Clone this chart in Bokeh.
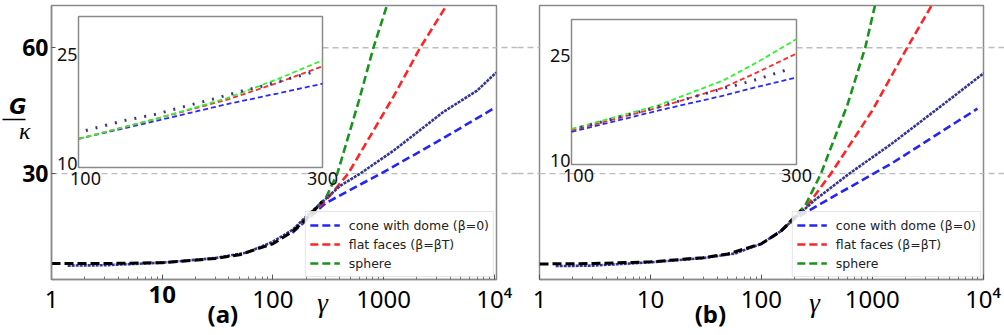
import json
import numpy as np
from bokeh.plotting import figure
from bokeh.layouts import row
from bokeh.models import (Range1d, LinearScale, FixedTicker, Span, Arrow, LinearAxis,
                          CustomJSTickFormatter, Legend, LegendItem)
from bokeh.core.properties import value
from bokeh.embed import file_html
from bokeh.resources import INLINE

# ---------------- ticks / labels ----------------
gamma_ticks = [1, 10, 100, 1000, 10000]
gamma_tick_labels = ["1", "10", "100", "1000", "10\u2074"]
G_ticks = [30, 60]
ref_lines = [30, 60]
inset_gamma_ticks = [100, 300]
inset_G_ticks = [10, 25]
inset_G_lim = [10, 30]
legend_labels = ["cone with dome (\u03b2=0)", "flat faces (\u03b2=\u03b2T)", "sphere"]

# ---------------- panel (a) main ----------------
a_black_gamma = [1, 3, 10, 30, 50, 100, 150, 200, 280]
a_black_G = [8.6, 8.6, 8.8, 9.8, 10.7, 13.3, 16.2, 19.2, 23.4]
a_sim_gamma = [1.4, 3, 10, 30, 58, 100, 150, 200, 300, 405, 612, 1230, 2000, 3460, 7000, 10400]
a_sim_G = [8.1, 8.2, 8.8, 9.9, 11.2, 13.8, 16.6, 19.8, 24.0, 27.1, 30.0, 35.5, 39.8, 44.7, 49.8, 54.1]
a_blue_gamma = [150, 300, 1000, 3000, 9800]
a_blue_G = [15.9, 23.0, 30.4, 37.5, 45.5]
a_red_gamma = [150, 300, 478, 1230, 2140, 4000]
a_red_G = [16.2, 23.6, 30.0, 48.4, 60.0, 71.5]
a_green_gamma = [150, 300, 382, 600, 809, 1100]
a_green_G = [16.2, 24.2, 30.0, 47.5, 60.0, 71.0]

# ---------------- panel (a) inset ----------------
ia_theory_gamma = [100, 167, 222, 263, 300]
ia_green_G = [13.8, 16.6, 19.2, 21.7, 24.2]
ia_red_G = [13.8, 16.6, 19.0, 21.2, 23.4]
ia_blue_G = [13.8, 16.3, 18.4, 19.8, 21.1]
ia_sim_gamma = [106, 137, 162, 185, 209, 233, 249, 271, 296]
ia_sim_G = [14.9, 16.2, 17.0, 18.0, 19.0, 20.1, 20.7, 21.7, 22.8]

# ---------------- panel (b) main ----------------
b_black_gamma = [1, 3, 10, 30, 50, 100, 150, 200, 230]
b_black_G = [8.5, 8.6, 9.0, 10.0, 10.9, 13.3, 16.3, 19.6, 21.3]
b_sim_gamma = [1.4, 3, 10, 30, 58, 100, 150, 200, 300, 620, 1510, 4270, 10200]
b_sim_G = [8.0, 8.1, 8.9, 9.9, 11.0, 13.3, 16.3, 19.4, 23.6, 30.0, 37.2, 46.3, 54.0]
b_blue_gamma = [150, 207, 500, 1510, 8900]
b_blue_G = [16.3, 19.5, 25.3, 32.5, 45.5]
b_red_gamma = [150, 250, 424, 1000, 2066, 3600]
b_red_G = [16.3, 21.8, 30.0, 45.0, 60.0, 71.0]
b_green_gamma = [150, 250, 345, 600, 865, 1080]
b_green_G = [16.3, 22.5, 30.0, 46.5, 60.0, 71.0]

# ---------------- panel (b) inset ----------------
ib_theory_gamma = [100, 176, 235, 265, 300]
ib_green_G = [14.9, 18.1, 21.6, 24.1, 27.3]
ib_red_G = [14.7, 17.8, 20.6, 22.7, 25.3]
ib_blue_G = [14.5, 17.4, 19.5, 20.7, 22.0]
ib_sim_gamma = [108, 137, 176, 206, 233, 262, 292]
ib_sim_G = [15.1, 16.3, 17.9, 19.2, 20.4, 21.6, 23.1]

# ---------------- layout constants ----------------
H = 335
TOP, BOTTOM = 5, 56
FH = H - TOP - BOTTOM
G_RANGE = (4.8, 70.07)
MINOR = [k * 10 ** d for d in range(0, 5) for k in range(2, 10)]

GRAY = "#bdbdbd"
FRAME = "#8a8a8a"
SIM = "#36368f"
SHIFT = "\u2003" * 4 + "\u00a0"   # pushes the centred panel tag to the left


def hline(p, x0, x1, y, level, xname="default"):
    p.add_layout(Arrow(x_start=x0, x_end=x1, y_start=y, y_end=y, start=None, end=None,
                       line_color=GRAY, line_width=1.3, line_dash="6 4",
                       level=level, x_range_name=xname))


def label_axis(p, side, ticks, label="", font="Noto Sans", style="normal", size="24px",
               standoff=0, tick_in=0, tick_out=0, tick_color=None, tick_width=1.0,
               tick_dash="solid"):
    ax = LinearAxis(ticker=FixedTicker(ticks=ticks),
                    formatter=CustomJSTickFormatter(code="return %s;" % json.dumps(label)))
    ax.axis_line_color = None
    ax.minor_tick_line_color = None
    ax.minor_tick_out = 0
    ax.minor_tick_in = 0
    ax.major_tick_line_color = tick_color
    ax.major_tick_line_width = tick_width
    ax.major_tick_line_dash = tick_dash
    ax.major_tick_in = tick_in
    ax.major_tick_out = tick_out
    ax.major_label_standoff = standoff
    ax.major_label_text_font = font
    ax.major_label_text_font_style = style
    ax.major_label_text_font_size = size
    ax.major_label_text_color = "black"
    p.add_layout(ax, side)
    return ax


def build(width, bl, br, xr, inset_box, main, inset, tag, gamma_px, left_panel):
    fw = width - bl - br
    p = figure(width=width, height=H, x_axis_type="log",
               x_range=Range1d(*xr), y_range=Range1d(*G_RANGE),
               min_border_left=bl, min_border_right=br,
               min_border_top=TOP, min_border_bottom=BOTTOM,
               output_backend="svg", toolbar_location=None)
    p.xgrid.visible = False
    p.ygrid.visible = False
    p.outline_line_color = FRAME
    p.outline_line_width = 1.5
    p.background_fill_color = "white"
    p.border_fill_color = "white"

    lx0, lx1 = np.log10(xr)

    def px2x(px):
        return float(10 ** (lx0 + (px - bl) / fw * (lx1 - lx0)))

    def py2y(py):
        return float(G_RANGE[1] - (py - TOP) / FH * (G_RANGE[1] - G_RANGE[0]))

    # main x axis
    xa = p.xaxis[0]
    xa.ticker = FixedTicker(ticks=gamma_ticks, minor_ticks=MINOR)
    labs = list(gamma_tick_labels)
    if left_panel:
        labs[1] = ""
    xa.formatter = CustomJSTickFormatter(
        code="const L = %s; return L[Math.round(Math.log10(tick))];" % json.dumps(labs))
    xa.major_label_text_font = "Noto Sans"
    xa.major_label_text_font_size = "24px"
    xa.major_label_text_color = "black"
    xa.major_label_standoff = 2
    xa.axis_line_color = FRAME
    xa.axis_line_width = 1.5
    xa.major_tick_line_color = "#555555"
    xa.minor_tick_line_color = "#777777"
    xa.major_tick_in = 5
    xa.major_tick_out = 0
    xa.minor_tick_in = 3
    xa.minor_tick_out = 0

    # extra label rows under the frame (stacked axes pulled back with negative standoffs)
    label_axis(p, "below", [gamma_ticks[1]], gamma_tick_labels[1] if left_panel else "",
               style="bold", size="24px", standoff=-32)
    ga = label_axis(p, "below", [px2x(gamma_px)], "\u03b3", font="Liberation Serif",
                    style="italic", size="27px", standoff=-30)
    ga.axis_label = tag + SHIFT
    ga.axis_label_text_font = "Noto Sans"
    ga.axis_label_text_font_style = "bold"
    ga.axis_label_text_font_size = "24px"
    ga.axis_label_text_color = "black"
    ga.axis_label_standoff = -24

    ya = p.yaxis[0]
    if left_panel:
        ya.ticker = FixedTicker(ticks=G_ticks)
        ya.major_label_text_font = "Noto Sans"
        ya.major_label_text_font_style = "bold"
        ya.major_label_text_font_size = "23px"
        ya.major_label_text_color = "black"
        ya.major_label_standoff = 3
        ya.axis_line_color = FRAME
        ya.axis_line_width = 1.5
        ya.major_tick_line_color = "#555555"
        ya.major_tick_in = 4
        ya.major_tick_out = 0
        ya.minor_tick_line_color = None
        # G / kappa fraction built from label-only axes
        label_axis(p, "left", [py2y(130)], "\u03ba", font="Liberation Serif",
                   style="italic", size="24px", standoff=-11)
        label_axis(p, "left", [py2y(106)], "G", font="DejaVu Sans",
                   style="bold italic", size="21px", standoff=-11)
        label_axis(p, "left", [py2y(119)], "", size="1px", tick_in=19, tick_out=4,
                   tick_color="black", tick_width=1.5)
    else:
        ya.visible = False
        label_axis(p, "left", ref_lines, "", size="1px", tick_out=bl, tick_color=GRAY,
                   tick_width=1.3, tick_dash="6 4")
    label_axis(p, "right", ref_lines, "", size="1px", tick_out=br, tick_color=GRAY,
               tick_width=1.3, tick_dash="6 4")

    # inset ranges
    il, it, ir, ib = inset_box
    gx0, gx1 = inset_gamma_ticks
    sx = (gx1 - gx0) / (ir - il)
    gy0, gy1 = inset_G_lim
    sy = (gy1 - gy0) / (ib - it)
    ixr = Range1d(gx0 - (il - bl) * sx, gx1 + (bl + fw - ir) * sx)
    iyr = Range1d(gy0 - (TOP + FH - ib) * sy, gy1 + (it - TOP) * sy)
    p.extra_x_ranges = {"ix": ixr}
    p.extra_y_ranges = {"iy": iyr}
    p.extra_x_scales = {"ix": LinearScale()}

    # reference lines inside the frame
    p.add_layout(Span(location=ref_lines[0], dimension="width", line_color=GRAY,
                      line_width=1.3, line_dash="6 4", level="underlay"))
    hline(p, gx1, ixr.end * 10, ref_lines[1], "underlay", "ix")

    # main curves
    (bg, bG), (rg_, rG), (gg, gG), (sg, sG), (kg, kG) = main
    rb = p.line(bg, bG, line_color="#2525f5", line_width=2.6, line_dash="8 4")
    rr = p.line(rg_, rG, line_color="#ff2525", line_width=2.6, line_dash="8 4")
    rgn = p.line(gg, gG, line_color="#17941a", line_width=2.6, line_dash="8 4")
    p.line(sg, sG, line_color=SIM, line_width=2.6, line_dash="3 1")
    p.line(kg, kG, line_color="black", line_width=3, line_dash="9 4")

    # inset
    p.quad(left=gx0, right=gx1, bottom=gy0, top=gy1, x_range_name="ix", y_range_name="iy",
           fill_color="white", line_color=FRAME, line_width=1.5)
    tg, igG, irG, ibG, isg, isG = inset
    kw = dict(x_range_name="ix", y_range_name="iy")
    p.line(tg, ibG, line_color="#2a2aff", line_width=1.8, line_dash="5 3", **kw)
    p.line(tg, irG, line_color="#ff2a2a", line_width=1.8, line_dash="5 3", **kw)
    p.line(tg, igG, line_color="#2ef52e", line_width=1.8, line_dash="5 3", **kw)
    p.line(isg, isG, line_color=SIM, line_width=3, line_dash="2 8", **kw)
    p.text(x=inset_gamma_ticks, y=[gy0, gy0], text=[str(v) for v in inset_gamma_ticks],
           text_font=value("Noto Sans"), text_font_size="18px", text_color="#111111",
           text_align="center", text_baseline="middle", x_offset=[7, 0], y_offset=11, **kw)
    p.text(x=[gx0, gx0], y=inset_G_ticks, text=[str(v) for v in inset_G_ticks],
           text_font=value("Noto Sans"), text_font_size="18px", text_color="#111111",
           text_align="right", text_baseline="middle", x_offset=-1, y_offset=[-4, 0], **kw)

    # legend
    legend = Legend(items=[LegendItem(label=l, renderers=[r])
                           for l, r in zip(legend_labels, [rb, rr, rgn])],
                    location="bottom_right", margin=2, padding=4, spacing=1,
                    glyph_width=30, glyph_height=18, label_height=18, label_standoff=9,
                    label_text_font="DejaVu Sans", label_text_font_size="12.5px",
                    label_text_color="#222222",
                    border_line_color="#cccccc", border_line_width=1,
                    background_fill_color="white", background_fill_alpha=0.85)
    p.add_layout(legend)
    return p


pa = build(517, 51, 21, (1, 10 ** 4.02), (78, 16, 322, 167),
           [(a_blue_gamma, a_blue_G), (a_red_gamma, a_red_G), (a_green_gamma, a_green_G),
            (a_sim_gamma, a_sim_G), (a_black_gamma, a_black_G)],
           (ia_theory_gamma, ia_green_G, ia_red_G, ia_blue_G, ia_sim_gamma, ia_sim_G),
           "(a)", 322, True)

pb = build(487, 22, 21, (1, 10 ** 4.004), (571 - 517, 19, 796 - 517, 164),
           [(b_blue_gamma, b_blue_G), (b_red_gamma, b_red_G), (b_green_gamma, b_green_G),
            (b_sim_gamma, b_sim_G), (b_black_gamma, b_black_G)],
           (ib_theory_gamma, ib_green_G, ib_red_G, ib_blue_G, ib_sim_gamma, ib_sim_G),
           "(b)", 814 - 517, False)

layout = row(pa, pb)
open("out.html", "w").write(file_html(layout, INLINE))
